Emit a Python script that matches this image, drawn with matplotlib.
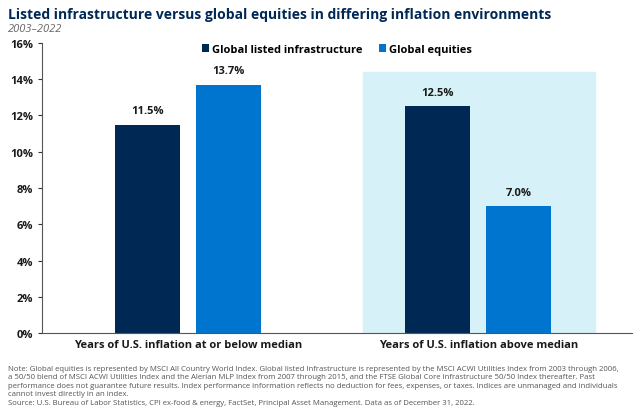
import matplotlib
matplotlib.use("Agg")
import matplotlib.pyplot as plt
import numpy as np

categories = ["Years of U.S. inflation at or below median", "Years of U.S. inflation above median"]
infra = [11.5, 12.5]
equities = [13.7, 7.0]
series_names = ["Global listed infrastructure", "Global equities"]
yticks = [0, 2, 4, 6, 8, 10, 12, 14, 16]

plt.rcParams['font.family'] = ['Open Sans', 'DejaVu Sans']
fig = plt.figure(figsize=(6.4, 4.14), dpi=100)
ax = fig.add_axes([0.066, 0.193, 0.9215, 0.701])
x = np.arange(len(categories))
w = 0.224
ax.axvspan(0.603, 1.403, ymin=0, ymax=14.4/16, color="#d6f1f7", zorder=0)
dark, blue = "#002855", "#0075cf"
b1 = ax.bar(x - 0.14, infra, w, color=dark, label=series_names[0], zorder=2)
b2 = ax.bar(x + 0.14, equities, w, color=blue, label=series_names[1], zorder=2)
for bars in (b1, b2):
    for r in bars:
        ax.text(r.get_x() + r.get_width()/2, r.get_height() + 0.45, f"{r.get_height():.1f}%",
                ha="center", va="bottom", fontsize=8, fontweight="bold", color="#1a1a1a")
ax.set_xlim(-0.503, 1.53)
ax.set_ylim(0, 16)
ax.set_yticks(yticks)
ax.set_yticklabels([f"{t}%" for t in yticks], fontsize=8, fontweight="bold", color="#1a1a1a")
ax.set_xticks(x)
ax.set_xticklabels(categories, fontsize=8, fontweight="bold", color="#1a1a1a")
ax.tick_params(axis="x", length=0, pad=4)
ax.tick_params(axis="y", length=3, color="#333")
for s in ["top", "right"]:
    ax.spines[s].set_visible(False)
ax.spines["left"].set_color("#555")
ax.spines["bottom"].set_color("#555")
ax.legend(loc="upper center", bbox_to_anchor=(0.5, 1.03), ncol=2, frameon=False, fontsize=8,
          handlelength=0.6, handleheight=0.7, handletextpad=0.3, columnspacing=1.5,
          prop={'weight': 'bold', 'size': 8})
fig.text(0.012, 0.955, "Listed infrastructure versus global equities in differing inflation environments",
         fontsize=10, fontweight="bold", color="#002855")
fig.text(0.012, 0.922, "2003\u20132022", fontsize=8, style="italic", color="#666")
note = ("Note: Global equities is represented by MSCI All Country World Index. Global listed Infrastructure is represented by the MSCI ACWI Utilities Index from 2003 through 2006,\n"
        "a 50/50 blend of MSCI ACWI Utilities Index and the Alerian MLP Index from 2007 through 2015, and the FTSE Global Core Infrastructure 50/50 Index thereafter. Past\n"
        "performance does not guarantee future results. Index performance information reflects no deduction for fees, expenses, or taxes. Indices are unmanaged and individuals\n"
        "cannot invest directly in an index.\n"
        "Source: U.S. Bureau of Labor Statistics, CPI ex-food & energy, FactSet, Principal Asset Management. Data as of December 31, 2022.")
fig.text(0.012, 0.018, note, fontsize=5.6, color="#555", va="bottom", linespacing=1.3)
fig.savefig("out.png", dpi=100)
